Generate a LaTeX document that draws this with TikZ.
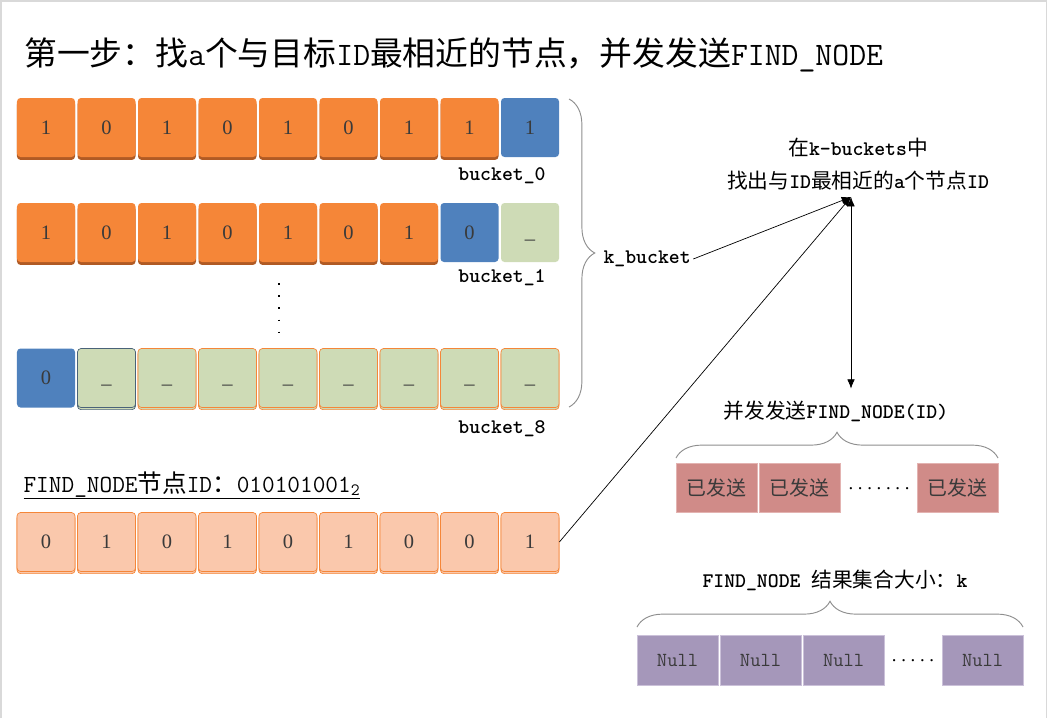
\documentclass[tikz,border=0pt]{standalone}
\usepackage{fontspec}
\setmainfont{Liberation Serif}
\newfontfamily\cjk{Noto Sans CJK SC}
\usepackage{xcolor}
\usepackage{tikz}
\usetikzlibrary{arrows.meta,positioning,calc,shadows,decorations.pathreplacing}
\definecolor{KOrange}{HTML}{F58638}
\definecolor{KOrangeDark}{HTML}{B05A24}
\definecolor{KBlue}{HTML}{4F81BD}
\definecolor{KGreen}{HTML}{CEDBB6}
\definecolor{KPeach}{HTML}{FAC8AC}
\definecolor{KSlate}{HTML}{4A6378}
\definecolor{KRed}{HTML}{D08B88}
\definecolor{KRedLine}{HTML}{E3B3B1}
\definecolor{KPurple}{HTML}{A597BA}
\definecolor{KPurpleLine}{HTML}{CBC1D9}
\definecolor{KBrace}{HTML}{8E8E8E}
\definecolor{KText}{HTML}{3A3A3A}
\definecolor{KFrame}{HTML}{D9D9D9}
\newcommand{\zh}[1]{{\cjk\mdseries #1}}
\newcommand{\kmono}{\ttfamily}
\newcommand{\lblfont}{\kmono\bfseries\fontsize{17.7pt}{20pt}\selectfont}
\newcommand{\digitfont}{\fontsize{17.5pt}{20pt}\selectfont}

\begin{document}
\begin{tikzpicture}[x=0.03cm, y=-0.03cm, >=Latex,
  cell/.style={rounded corners=3pt, minimum width=1.74cm, minimum height=1.77cm, inner sep=0pt, font=\digitfont, text=KText},
  orcell/.style={cell, fill=KOrange, general shadow={fill=KOrangeDark, shadow yshift=-2.5pt}},
  bluecell/.style={cell, fill=KBlue},
  nilcell/.style={cell, fill=KGreen},
  nilocell/.style={cell, fill=KGreen, draw=KOrange, line width=0.6pt, general shadow={fill=KGreen, draw=KOrange, line width=0.6pt, shadow yshift=-1.8pt}},
  nilscell/.style={cell, fill=KGreen, draw=KSlate, line width=0.6pt, general shadow={fill=KGreen, draw=KSlate, line width=0.6pt, shadow yshift=-1.8pt}},
  idcell/.style={cell, fill=KPeach, draw=KOrange, line width=0.6pt, general shadow={fill=KPeach, draw=KOrange, line width=0.6pt, shadow yshift=-1.8pt}},
  lbl/.style={font=\lblfont, text=black, inner sep=2pt},
  sentbox/.style={fill=KRed, draw=KRedLine, line width=0.6pt, minimum width=2.43cm, minimum height=1.47cm, inner sep=0pt, font=\cjk\fontsize{17pt}{20pt}\selectfont, text=KText},
  nullbox/.style={fill=KPurple, draw=KPurpleLine, line width=0.6pt, minimum width=2.43cm, minimum height=1.5cm, inner sep=0pt, font=\kmono\fontsize{17pt}{20pt}\selectfont, text=KText},
  dotrow/.style={font=\fontsize{16pt}{18pt}\selectfont, text=black},
  kbrace/.style={draw=KBrace, line width=0.8pt, decorate, decoration={brace, amplitude=22pt}},
  link/.style={->, line width=0.6pt, black, >={Latex[length=8pt, width=6.5pt]}}]
\useasboundingbox (0,0) rectangle (1048,718);
\draw[KFrame, line width=1.5pt] (1,718) -- (1,1) -- (1046.5,1) -- (1046.5,718);

% title
\node[anchor=west, inner sep=0pt, font=\kmono\fontsize{28pt}{32pt}\selectfont] (title) at (24,55)
  {\zh{第一步：找}a\zh{个与目标}ID\zh{最相近的节点，并发发送}FIND\_NODE};

% k-buckets
\foreach \v [count=\i] in {1,0,1,0,1,0,1,1}
  \node[orcell] (r0-\i) at ({46+60.5*(\i-1)},127.5) {\v};
\node[bluecell] (r0-9) at (530,127.5) {1};
\node[lbl] (lab0) at (502,176) {bucket\_0};

\foreach \v [count=\i] in {1,0,1,0,1,0,1}
  \node[orcell] (r1-\i) at ({46+60.5*(\i-1)},232.5) {\v};
\node[bluecell] (r1-8) at (469.5,232.5) {0};
\node[nilcell] (r1-9) at (530,232.5) {\vphantom{0}\_};
\node[lbl] (lab1) at (502,278) {bucket\_1};

\draw[black, line width=1.4pt, dash pattern=on 1.4pt off 9pt] (279,283) -- (279,337);

\node[bluecell] (r2-1) at (46,378) {0};
\node[nilscell] (r2-2) at (106.5,378) {\vphantom{0}\_};
\foreach \i in {3,...,9}
  \node[nilocell] (r2-\i) at ({46+60.5*(\i-1)},378) {\vphantom{0}\_};
\node[lbl] (lab8) at (502,429) {bucket\_8};

\draw[kbrace] (569,99) -- (569,407);
\node[lbl, anchor=west] (kb) at (601,259) {k\_bucket};

% FIND_NODE id
\node[anchor=base west, inner sep=2pt, font=\kmono\fontsize{21pt}{24pt}\selectfont] (idlab) at (21,492)
  {\underline{FIND\_NODE\zh{节点}ID\zh{：}010101001\textsubscript{2}}};
\foreach \v [count=\i] in {0,1,0,1,0,1,0,0,1}
  \node[idcell] (r3-\i) at ({46+60.5*(\i-1)},542) {\v};

% lookup
\node[lbl] (inkb) at (858,148) {\zh{在}k-buckets\zh{中}};
\node[lbl] (pick) at (858,181) {\zh{找出与}ID\zh{最相近的}a\zh{个节点}ID};
\coordinate (hub) at (851,197);
\node[lbl] (send) at (836,411) {\zh{并发发送}FIND\_NODE(ID)};

\draw[link] (kb.east) -- (hub);
\draw[link] (r3-9.east) -- (hub);
\draw[link, <->, shorten >=8pt] (hub) -- (hub |- send.north);

% sent requests
\draw[kbrace] (676,458) -- (998,458);
\node[sentbox] (sent1) at (716.5,487.5) {已发送};
\node[sentbox] (sent2) at (799.5,487.5) {已发送};
\node[dotrow] (sentdots) at (879,489) {.\ .\ .\ .\ .\ .\ .};
\node[sentbox] (sent3) at (957.5,487.5) {已发送};

% result set
\node[lbl] (res) at (835,580) {FIND\_NODE \zh{结果集合大小：}k};
\draw[kbrace] (637,627) -- (1023,627);
\node[nullbox] (null1) at (677.5,660) {Null};
\node[nullbox] (null2) at (760.5,660) {Null};
\node[nullbox] (null3) at (843.5,660) {Null};
\node[dotrow] (nulldots) at (913,661) {.\ .\ .\ .\ .};
\node[nullbox] (null4) at (982.5,660) {Null};
\end{tikzpicture}
\end{document}
